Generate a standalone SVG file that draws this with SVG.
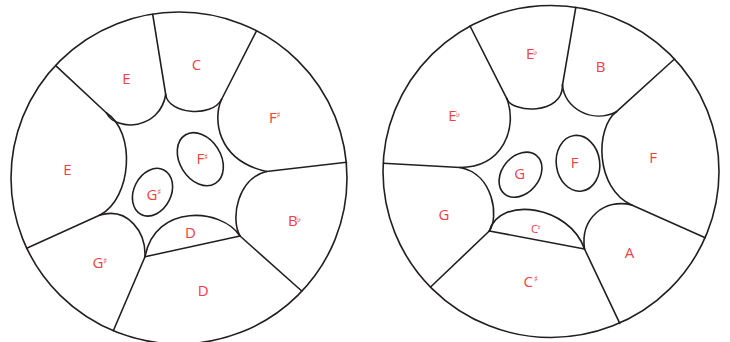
<svg xmlns="http://www.w3.org/2000/svg" width="730" height="342" viewBox="0 0 730 342">
<style>
.ln{fill:none;stroke:#231f20;stroke-width:1.6;stroke-linecap:round;stroke-linejoin:round}
.lb{font-family:"Open Sans","Liberation Sans",sans-serif;font-size:15px;fill:#ef4048}
.sm{font-family:"DejaVu Sans","Noto Sans",sans-serif;font-size:9px;fill:#ef4048}
.mid{text-anchor:middle}
</style>
<rect width="730" height="342" fill="#ffffff"/>

<!-- LEFT PAN -->
<g id="pan-left">
  <ellipse class="ln" cx="179" cy="178" rx="168" ry="166"/>
  <g id="dividers-left">
    <line class="ln" x1="106.5" y1="113" x2="55.7" y2="65.7"/>
    <line class="ln" x1="165.7" y1="94.5" x2="152.7" y2="14.3"/>
    <line class="ln" x1="221.5" y1="99.5" x2="256.5" y2="30.8"/>
    <line class="ln" x1="266.5" y1="171.5" x2="346.5" y2="162.3"/>
    <line class="ln" x1="240" y1="236" x2="301.7" y2="291"/>
    <line class="ln" x1="145" y1="256.7" x2="113.3" y2="330.7"/>
    <line class="ln" x1="100" y1="215" x2="26.7" y2="248.3"/>
    <line class="ln" x1="145" y1="256.7" x2="240" y2="236"/>
  </g>
  <g id="L-E-top">
    <path class="ln" d="M106.5,113 C116,132 160,130 165.7,94.5"/>
    <text class="lb mid" x="126.5" y="83.5">E</text>
  </g>
  <g id="L-C">
    <path class="ln" d="M165.7,94.5 C168,114 212,118 221.5,99.5"/>
    <text class="lb mid" x="196.5" y="69.5">C</text>
  </g>
  <g id="L-Fsharp">
    <path class="ln" d="M221.5,99.5 C213,118 216,160 266.5,171.5"/>
    <text class="lb" x="269" y="123.3">F</text><text class="sm" x="276.3" y="118">♯</text>
  </g>
  <g id="L-Bflat">
    <path class="ln" d="M266.5,171.5 C238,178 230,218 240,236"/>
    <text class="lb" x="288" y="226">B</text><text class="sm" x="296.8" y="222">♭</text>
  </g>
  <g id="L-D-small">
    <path class="ln" d="M240,236 C222,208 155,203 145,256.7"/>
    <text class="lb mid" x="190.5" y="237.7">D</text>
  </g>
  <g id="L-D-bottom">
    <text class="lb mid" x="203.3" y="295.5">D</text>
  </g>
  <g id="L-Gsharp">
    <path class="ln" d="M145,256.7 C146,232 128,207 100,215"/>
    <text class="lb" x="92.5" y="268.3">G</text><text class="sm" x="103" y="263.5">♯</text>
  </g>
  <g id="L-E-left">
    <path class="ln" d="M100,215 C132,198 136,132 106.5,113"/>
    <text class="lb mid" x="67.5" y="175">E</text>
  </g>
  <g id="L-Fsharp-inner">
    <ellipse class="ln" cx="0" cy="0" rx="20.5" ry="28.5" transform="translate(200.3,159.2) rotate(-32)"/>
    <text class="lb" x="196.5" y="164.3">F</text><text class="sm" x="203.8" y="159.5">♯</text>
  </g>
  <g id="L-Gsharp-inner">
    <ellipse class="ln" cx="0" cy="0" rx="18.6" ry="25" transform="translate(152.5,192.2) rotate(27)"/>
    <text class="lb" x="146.5" y="200">G</text><text class="sm" x="157" y="194.5">♯</text>
  </g>
</g>

<!-- RIGHT PAN -->
<g id="pan-right">
  <ellipse class="ln" cx="551" cy="171.5" rx="168" ry="166"/>
  <g id="dividers-right">
    <line class="ln" x1="506.7" y1="98.3" x2="470" y2="26"/>
    <line class="ln" x1="562.5" y1="85" x2="575.8" y2="7.4"/>
    <line class="ln" x1="616.5" y1="111.7" x2="674.5" y2="59"/>
    <line class="ln" x1="631.7" y1="205" x2="705.2" y2="237.7"/>
    <line class="ln" x1="584.5" y1="249" x2="619.8" y2="323.3"/>
    <line class="ln" x1="489.3" y1="231" x2="430.6" y2="287"/>
    <line class="ln" x1="460" y1="167.5" x2="383.3" y2="163.3"/>
    <line class="ln" x1="489.3" y1="231" x2="584.5" y2="249"/>
  </g>
  <g id="R-Eflat-top">
    <path class="ln" d="M506.7,98.3 C511,113 563,116 562.5,85"/>
    <text class="lb" x="526" y="59">E</text><text class="sm" x="533" y="54.8">♭</text>
  </g>
  <g id="R-B">
    <path class="ln" d="M562.5,85 C564,108 592,124 616.5,111.7"/>
    <text class="lb mid" x="600.5" y="72">B</text>
  </g>
  <g id="R-F">
    <path class="ln" d="M616.5,111.7 C595,128 595,188 631.7,205"/>
    <text class="lb mid" x="653" y="163.3">F</text>
  </g>
  <g id="R-A">
    <path class="ln" d="M631.7,205 C605,198 580,218 584.5,249"/>
    <text class="lb mid" x="629.5" y="258.3">A</text>
  </g>
  <g id="R-Csharp-small">
    <path class="ln" d="M584.5,249 C570,206 500,195 489.3,231"/>
    <text class="lb" x="531" y="233.3" style="font-size:11.5px">C</text><text class="sm" x="537.2" y="229.8" style="font-size:7px">♯</text>
  </g>
  <g id="R-Csharp-bottom">
    <text class="lb" x="523.5" y="287">C</text><text class="sm" x="533.8" y="282">♯</text>
  </g>
  <g id="R-G">
    <path class="ln" d="M489.3,231 C499,218 494,174 460,167.5"/>
    <text class="lb mid" x="444" y="220">G</text>
  </g>
  <g id="R-Eflat-left">
    <path class="ln" d="M460,167.5 C503,167 518,128 506.7,98.3"/>
    <text class="lb" x="448.3" y="121">E</text><text class="sm" x="455.8" y="116.8">♭</text>
  </g>
  <g id="R-G-inner">
    <ellipse class="ln" cx="0" cy="0" rx="18.5" ry="25" transform="translate(520.5,174.7) rotate(40)"/>
    <text class="lb mid" x="519.7" y="179.3">G</text>
  </g>
  <g id="R-F-inner">
    <ellipse class="ln" cx="0" cy="0" rx="21.7" ry="28" transform="translate(578,163.3) rotate(-8)"/>
    <text class="lb mid" x="574.7" y="167.7">F</text>
  </g>
</g>
</svg>
